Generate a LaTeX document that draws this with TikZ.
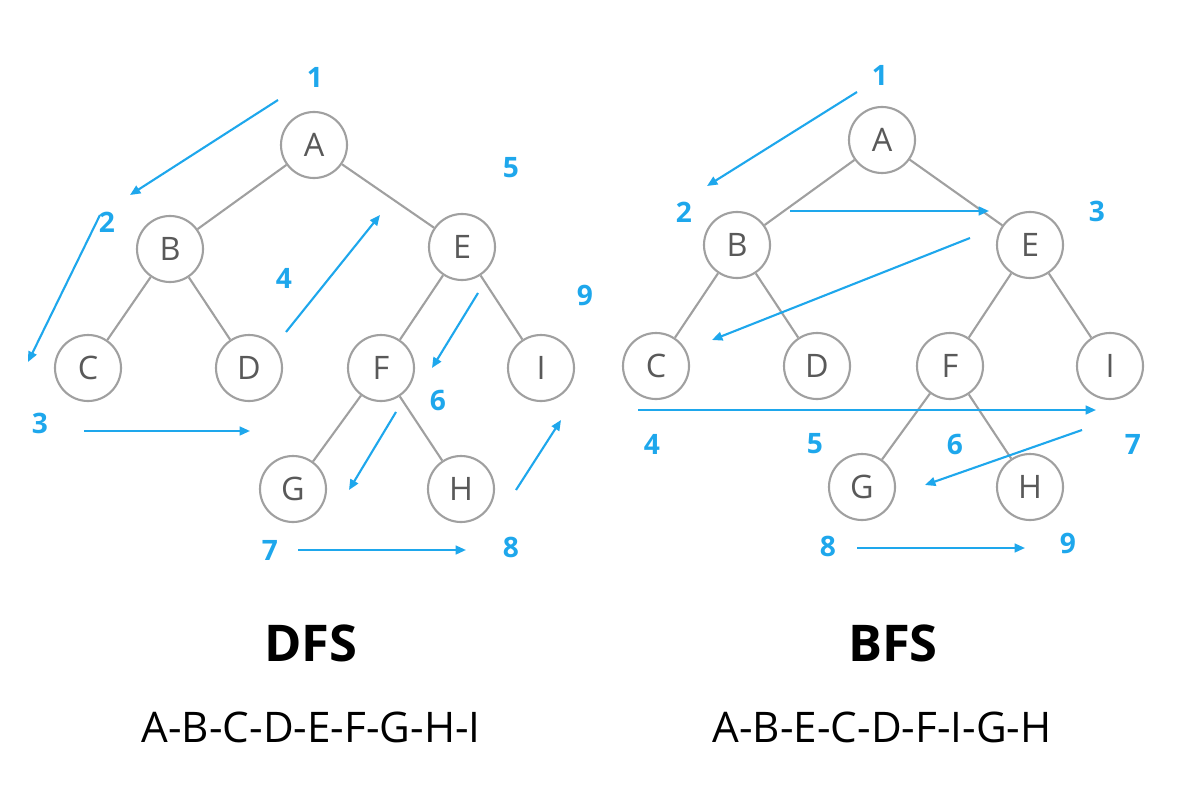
\documentclass[tikz,border=0pt]{standalone}
\usepackage{fontspec}
\setmainfont{Open Sans}
\usetikzlibrary{arrows.meta, positioning}
\definecolor{stepblue}{HTML}{1EA7EC}
\definecolor{edgegray}{HTML}{A0A0A0}
\tikzset{%
>={Triangle[width=2.2mm,length=2.6mm]},
  % Specifications for style of nodes:
            vert/.style = {circle, draw=edgegray, line width=1.5pt, fill=white,
                            minimum size=1.65cm, inner sep=0pt, text=black!65,
                            font=\fontsize{23}{26}\selectfont},
            order/.style = {text=stepblue, font=\bfseries\fontsize{20}{24}\selectfont},
            walk/.style = {->, draw=stepblue, line width=1.5pt},
            tree/.style = {draw=edgegray, line width=1.5pt}
}
\begin{document}
\begin{tikzpicture}[x=0.025cm, y=-0.025cm]
                \useasboundingbox (0,0) rectangle (1200,800);

                % DFS tree
                \node[vert] (a1) at (314,145) {A};
                \node[vert] (b1) at (170,249) {B};
                \node[vert] (c1) at (88,368) {C};
                \node[vert] (d1) at (249,368) {D};
                \node[vert] (e1) at (462,247) {E};
                \node[vert] (f1) at (381,368) {F};
                \node[vert] (i1) at (541,368) {I};
                \node[vert] (g1) at (293,489) {G};
                \node[vert] (h1) at (461,489) {H};
                \draw[tree] (a1) -- (b1);
                \draw[tree] (a1) -- (e1);
                \draw[tree] (b1) -- (c1);
                \draw[tree] (b1) -- (d1);
                \draw[tree] (e1) -- (f1);
                \draw[tree] (e1) -- (i1);
                \draw[tree] (f1) -- (g1);
                \draw[tree] (f1) -- (h1);

                \coordinate (p1) at (278,100); \coordinate (q1) at (130,195);
                \coordinate (p2) at (100,215); \coordinate (q2) at (28,362);
                \coordinate (p3) at (84,431);  \coordinate (q3) at (250,431);
                \coordinate (p4) at (286,332); \coordinate (q4) at (380,215);
                \coordinate (p5) at (478,293); \coordinate (q5) at (432,368);
                \coordinate (p6) at (396,412); \coordinate (q6) at (349,490);
                \coordinate (p7) at (298,550); \coordinate (q7) at (466,550);
                \coordinate (p8) at (516,490); \coordinate (q8) at (561,420);
                \foreach \k in {1,...,8}
                    \draw[walk] (p\k) -- (q\k);

                \node[order] (l1) at (315,77) {1};
                \node[order] (l2) at (107,222) {2};
                \node[order] (l3) at (40,423) {3};
                \node[order] (l4) at (284,278) {4};
                \node[order] (l5) at (511,168) {5};
                \node[order] (l6) at (438,400) {6};
                \node[order] (l7) at (270,550) {7};
                \node[order] (l8) at (511,547) {8};
                \node[order] (l9) at (585,295) {9};

                % BFS tree
                \node[vert] (a2) at (882,140) {A};
                \node[vert] (b2) at (737,245) {B};
                \node[vert] (c2) at (656,366) {C};
                \node[vert] (d2) at (817,366) {D};
                \node[vert] (e2) at (1030,245) {E};
                \node[vert] (f2) at (950,366) {F};
                \node[vert] (i2) at (1110,366) {I};
                \node[vert] (g2) at (862,487) {G};
                \node[vert] (h2) at (1030,487) {H};
                \draw[tree] (a2) -- (b2);
                \draw[tree] (a2) -- (e2);
                \draw[tree] (b2) -- (c2);
                \draw[tree] (b2) -- (d2);
                \draw[tree] (e2) -- (f2);
                \draw[tree] (e2) -- (i2);
                \draw[tree] (f2) -- (g2);
                \draw[tree] (f2) -- (h2);

                \coordinate (r1) at (857,92);  \coordinate (s1) at (707,186);
                \coordinate (r2) at (790,211); \coordinate (s2) at (989,211);
                \coordinate (r3) at (970,238); \coordinate (s3) at (712,340);
                \coordinate (r4) at (638,410); \coordinate (s4) at (1096,410);
                \coordinate (r5) at (1082,430); \coordinate (s5) at (925,485);
                \coordinate (r6) at (857,548); \coordinate (s6) at (1025,548);
                \foreach \k in {1,...,6}
                    \draw[walk] (r\k) -- (s\k);

                \node[order] (m1) at (880,75) {1};
                \node[order] (m2) at (684,212) {2};
                \node[order] (m3) at (1097,211) {3};
                \node[order] (m4) at (652,444) {4};
                \node[order] (m5) at (815,444) {5};
                \node[order] (m6) at (955,444) {6};
                \node[order] (m7) at (1133,444) {7};
                \node[order] (m8) at (828,546) {8};
                \node[order] (m9) at (1068,543) {9};

                % captions
                \node[font=\bfseries\fontsize{36}{40}\selectfont] (dfs) at (311,643) {DFS};
                \node[font=\bfseries\fontsize{36}{40}\selectfont] (bfs) at (893,643) {BFS};
                \node[font=\fontsize{30}{34}\selectfont] (dseq) at (311,727) {A-B-C-D-E-F-G-H-I};
                \node[font=\fontsize{30}{34}\selectfont] (bseq) at (882,727) {A-B-E-C-D-F-I-G-H};
\end{tikzpicture}
\end{document}
